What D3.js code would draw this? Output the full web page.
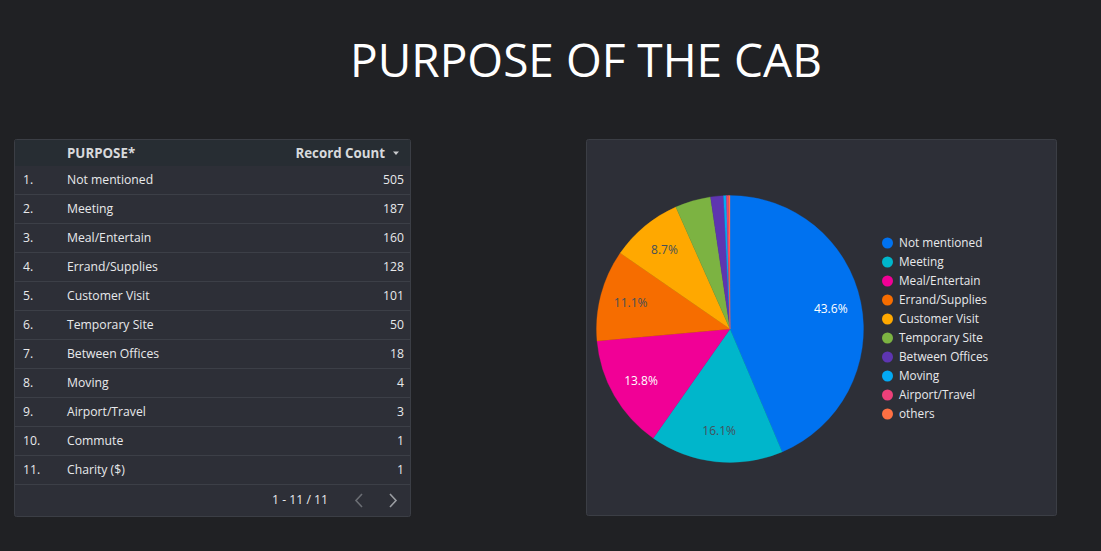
<!DOCTYPE html>
<html><head><meta charset="utf-8">
<script src="https://cdn.jsdelivr.net/npm/d3@7"></script>
<style>
html,body{margin:0;padding:0;background:#202124;}
svg{display:block;font-family:"Open Sans",sans-serif;}
</style></head><body>
<svg id="c" width="1101" height="551"></svg>
<script>
const purposes = ["Not mentioned","Meeting","Meal/Entertain","Errand/Supplies","Customer Visit","Temporary Site","Between Offices","Moving","Airport/Travel","Commute","Charity ($)"];
const counts = [505,187,160,128,101,50,18,4,3,1,1];
const pieCategories = ["Not mentioned","Meeting","Meal/Entertain","Errand/Supplies","Customer Visit","Temporary Site","Between Offices","Moving","Airport/Travel","others"];
const pieValues = [505,187,160,128,101,50,18,4,3,2];
const pieColors = ["#0072f0","#00b6cb","#f10096","#f66d00","#ffa800","#7cb342","#5e35b1","#03a9f4","#ec407a","#ff7043"];
const labelDark = [false,true,false,true,true,true,false,false,false,false];

const svg = d3.select("#c");
svg.append("rect").attr("width",1101).attr("height",551).attr("fill","#202124");

// Title
svg.append("text").attr("x",586).attr("y",77).attr("text-anchor","middle")
  .attr("fill","#ffffff").attr("font-size",46).text("PURPOSE OF THE CAB");

// Table panel
const tx=14, ty=139, tw=396, th=377;
svg.append("rect").attr("x",tx+0.5).attr("y",ty+0.5).attr("width",tw).attr("height",th)
  .attr("rx",2).attr("fill","#2d2f37").attr("stroke","#3b3e45");
svg.append("rect").attr("x",tx+1).attr("y",ty+1).attr("width",tw-1).attr("height",26)
  .attr("fill","#272d33");
const hdr = svg.append("g").attr("font-size",13.3).attr("font-weight","bold").attr("fill","#d7d9dc");
hdr.append("text").attr("x",67).attr("y",158).text("PURPOSE*");
hdr.append("text").attr("x",385).attr("y",158).attr("text-anchor","end").text("Record Count");
svg.append("path").attr("d","M393,151.5 L399,151.5 L396,155 Z").attr("fill","#c9cbce");

const rowY = d3.scaleBand().domain(d3.range(purposes.length)).range([165,484]);
const rows = svg.append("g").attr("font-size",12.2).attr("fill","#e8e9eb");
purposes.forEach((p,i)=>{
  const y0 = rowY(i), h = rowY.bandwidth();
  rows.append("text").attr("x",23).attr("y",y0+h/2+4.5).text((i+1)+".");
  rows.append("text").attr("x",67).attr("y",y0+h/2+4.5).text(p);
  rows.append("text").attr("x",404).attr("y",y0+h/2+4.5).attr("text-anchor","end").text(counts[i]);
  svg.append("line").attr("x1",tx+1).attr("x2",tx+tw).attr("y1",y0+h+0.5).attr("y2",y0+h+0.5)
    .attr("stroke","#3c3f47");
});
svg.append("text").attr("x",328).attr("y",504).attr("text-anchor","end")
  .attr("font-size",12.2).attr("fill","#e8e9eb").text("1 - 11 / 11");
svg.append("path").attr("d","M362,494 L356,500.5 L362,507").attr("fill","none").attr("stroke","#6b6e74").attr("stroke-width",1.6);
svg.append("path").attr("d","M390,494 L396,500.5 L390,507").attr("fill","none").attr("stroke","#9a9da2").attr("stroke-width",1.6);

// Pie panel
svg.append("rect").attr("x",586.5).attr("y",139.5).attr("width",470).attr("height",376)
  .attr("rx",2).attr("fill","#2d2f37").attr("stroke","#3b3e45");

const cx=730, cy=329, r=133.5;
const total = d3.sum(pieValues);
const pie = d3.pie().sort(null).value(d=>d);
const arcs = pie(pieValues);
const arc = d3.arc().innerRadius(0).outerRadius(r);
const labelArc = d3.arc().innerRadius(r*0.77).outerRadius(r*0.77);
const g = svg.append("g").attr("transform",`translate(${cx},${cy})`);
g.selectAll("path.s").data(arcs).join("path").attr("class","s")
  .attr("d",arc).attr("fill",(d,i)=>pieColors[i]).attr("stroke",(d,i)=>pieColors[i]).attr("stroke-width",0.3);
g.selectAll("text.l").data(arcs.filter(d=>d.value/total>=0.05)).join("text").attr("class","l")
  .attr("transform",d=>`translate(${labelArc.centroid(d)})`)
  .attr("text-anchor","middle").attr("dy","0.35em").attr("font-size",12)
  .attr("fill",d=>labelDark[d.index]?"#45505a":"#ffffff")
  .text(d=>d3.format(".1%")(d.value/total));

// Legend
const ly = d3.scalePoint().domain(pieCategories).range([243,414]);
const leg = svg.append("g");
pieCategories.forEach((c,i)=>{
  leg.append("circle").attr("cx",887.5).attr("cy",ly(c)).attr("r",5.5).attr("fill",pieColors[i]);
  leg.append("text").attr("x",899).attr("y",ly(c)+4.3).attr("font-size",11.8).attr("fill","#e8e9eb").text(c);
});
</script>
</body></html>
